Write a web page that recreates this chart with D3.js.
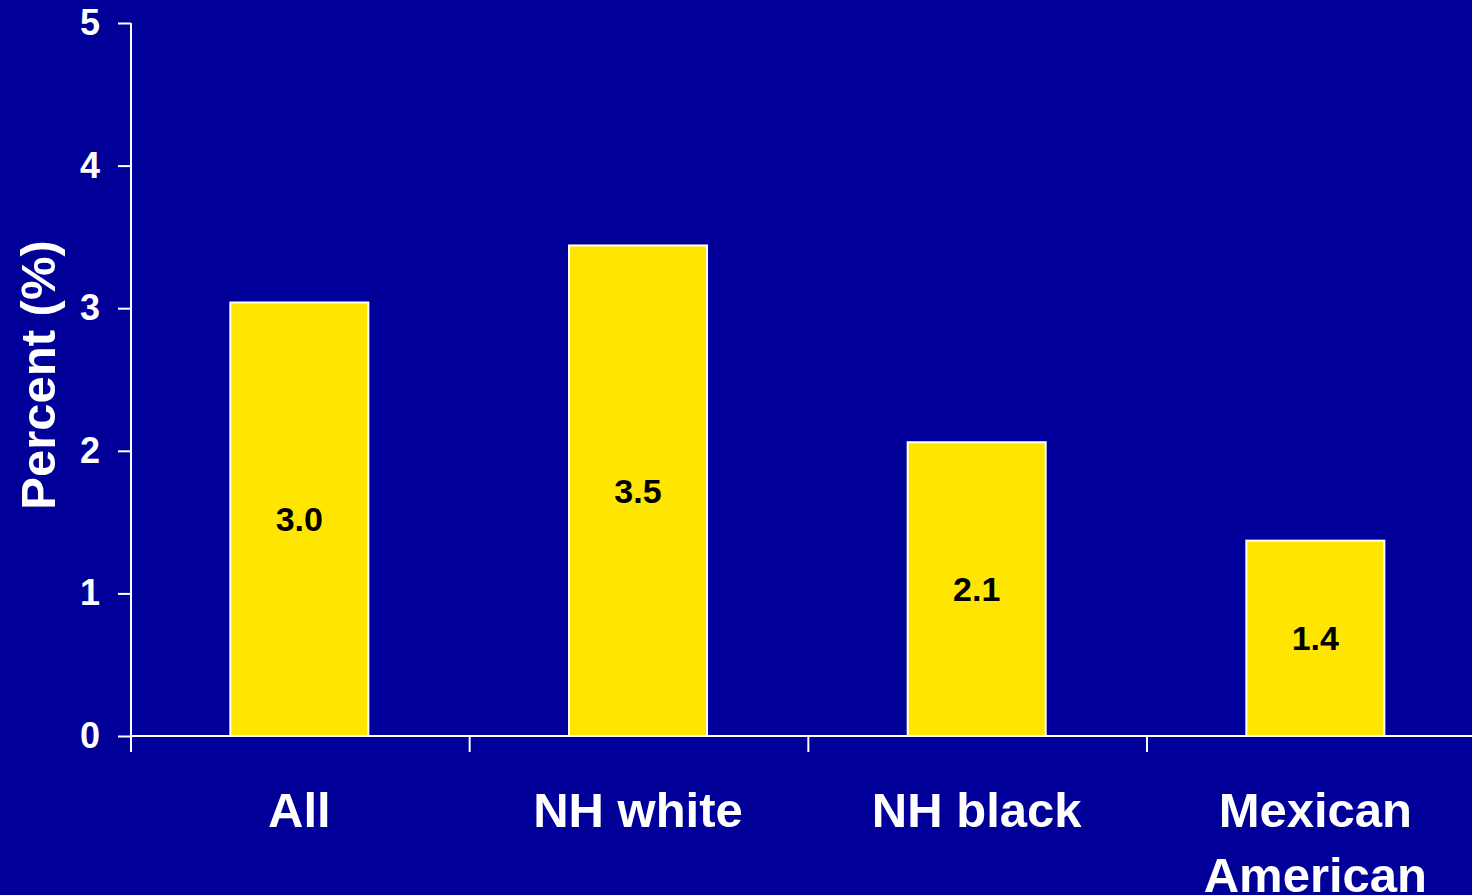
<!DOCTYPE html>
<html><head><meta charset="utf-8">
<script src="https://cdn.jsdelivr.net/npm/d3@7"></script>
<style>
html,body{margin:0;padding:0;background:#000099;}
svg{display:block;}
text{font-family:"Liberation Sans",Arial,sans-serif;font-weight:bold;}
</style></head>
<body>
<svg id="chart" width="1472" height="895"></svg>
<script>
const categories = ["All", "NH white", "NH black", "Mexican American"];
const values = [3.04, 3.44, 2.06, 1.37];
const valueLabels = ["3.0", "3.5", "2.1", "1.4"];
const yTicks = [0, 1, 2, 3, 4, 5];
const yTitle = "Percent (%)";

const svg = d3.select("#chart");
const W = 1472, H = 895;
svg.append("rect").attr("width", W).attr("height", H).attr("fill", "#000099");

const x0 = 131, y0 = 736, yTop = 23, step = 338.67;
const x = d3.scaleBand().domain(categories)
  .range([x0 - 1, x0 - 1 + step * categories.length])
  .paddingInner(0.5925).paddingOuter(0.29625);
const y = d3.scaleLinear().domain([0, 5]).range([y0, yTop]);

// bars
svg.selectAll("rect.bar").data(values).enter().append("rect")
  .attr("class", "bar")
  .attr("x", (d, i) => x(categories[i]))
  .attr("y", d => y(d))
  .attr("width", x.bandwidth())
  .attr("height", d => y(0) - y(d))
  .attr("fill", "#FFE600")
  .attr("stroke", "#ffffff")
  .attr("stroke-width", 2);

// value labels
svg.selectAll("text.val").data(values).enter().append("text")
  .attr("class", "val")
  .attr("x", (d, i) => x(categories[i]) + x.bandwidth() / 2)
  .attr("y", d => (y(d) + y(0)) / 2)
  .attr("dy", "0.35em")
  .attr("text-anchor", "middle")
  .attr("font-size", 34)
  .attr("fill", "#000000")
  .text((d, i) => valueLabels[i]);

// y axis
const yAxis = d3.axisLeft(y).tickValues(yTicks).tickSize(13).tickPadding(18).tickFormat(d3.format("d"));
const gy = svg.append("g").attr("transform", `translate(${x0},0)`).call(yAxis);
gy.select(".domain").remove();
gy.selectAll(".tick line").attr("stroke", "#fff").attr("stroke-width", 2);
gy.selectAll(".tick text").attr("fill", "#fff").attr("font-size", 36)
  .style("font-family", "'Liberation Sans', Arial, sans-serif").style("font-weight", "bold");
svg.append("line").attr("x1", x0).attr("x2", x0).attr("y1", yTop).attr("y2", y0 + 16)
  .attr("stroke", "#fff").attr("stroke-width", 2);

// x axis line and category ticks
svg.append("line").attr("x1", x0).attr("x2", W).attr("y1", y0).attr("y2", y0)
  .attr("stroke", "#fff").attr("stroke-width", 2);
svg.selectAll("line.xt").data(categories.slice(1)).enter().append("line")
  .attr("class", "xt")
  .attr("x1", c => x(c) - (x.step() - x.bandwidth()) / 2 + 1)
  .attr("x2", c => x(c) - (x.step() - x.bandwidth()) / 2 + 1)
  .attr("y1", y0).attr("y2", y0 + 16)
  .attr("stroke", "#fff").attr("stroke-width", 2);

// category labels
const catLines = { "Mexican American": ["Mexican", "American"] };
categories.forEach(c => {
  const lines = catLines[c] || [c];
  const t = svg.append("text")
    .attr("x", x(c) + x.bandwidth() / 2)
    .attr("y", 827)
    .attr("text-anchor", "middle")
    .attr("font-size", 49)
    .attr("fill", "#fff");
  lines.forEach((l, i) => {
    t.append("tspan").attr("x", x(c) + x.bandwidth() / 2).attr("dy", i === 0 ? 0 : 65).text(l);
  });
});

// y title
svg.append("text")
  .attr("transform", `translate(55,${375}) rotate(-90)`)
  .attr("text-anchor", "middle")
  .attr("font-size", 49)
  .attr("fill", "#fff")
  .text(yTitle);
</script>
</body></html>
